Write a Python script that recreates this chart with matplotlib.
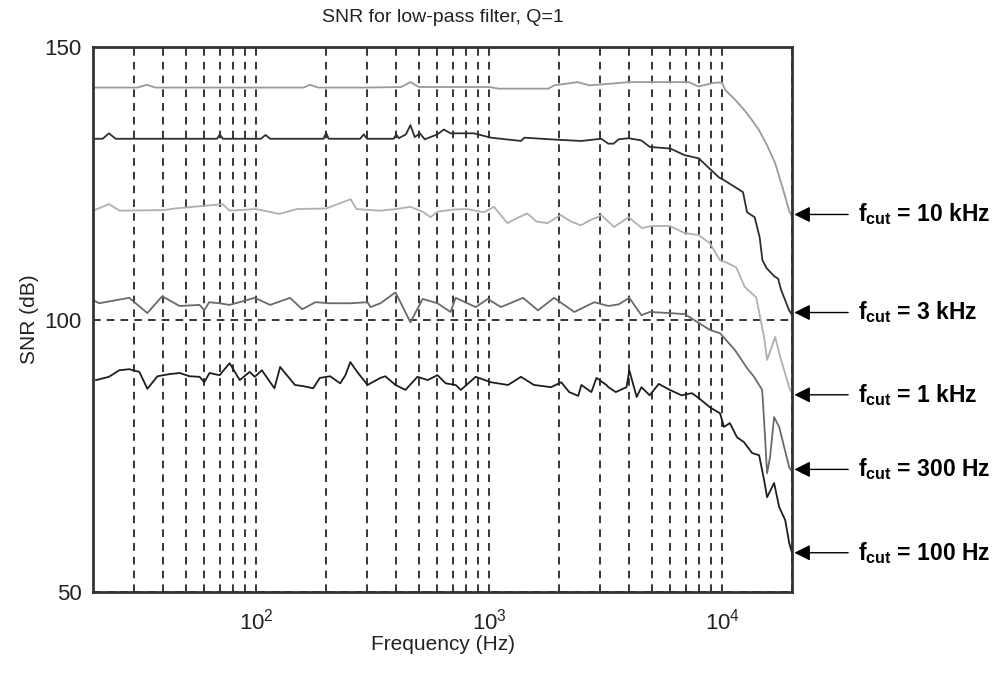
import matplotlib

matplotlib.use("Agg")
import matplotlib.pyplot as plt
from matplotlib.ticker import LogLocator, NullFormatter

plt.rcParams["font.family"] = ["Liberation Sans", "DejaVu Sans"]
plt.rcParams["mathtext.fontset"] = "custom"
plt.rcParams["mathtext.rm"] = "Liberation Sans"
plt.rcParams["mathtext.bf"] = "Liberation Sans:bold"
plt.rcParams["mathtext.it"] = "Liberation Sans:italic"

# fcut = 10 kHz
freq_10k = [20, 31, 34, 37, 60, 100, 160, 171, 185, 300, 420, 460, 500, 700, 1000,
            1100, 1800, 1900, 2400, 2700, 4000, 4200, 7200, 7900, 9300, 10000, 10300,
            11300, 12500, 13400, 14400, 15600, 16900, 18100, 19400, 20000]
snr_10k = [142.6, 142.6, 143.1, 142.6, 142.6, 142.6, 142.6, 143.1, 142.6, 142.6, 142.7,
           143.6, 142.7, 142.7, 142.7, 142.4, 142.4, 143.0, 143.6, 143.0, 143.6, 143.6,
           143.6, 142.8, 143.5, 143.5, 142.2, 140.5, 138.4, 136.7, 134.8, 132.0, 128.7,
           124.5, 120.0, 118.8]

# fcut = 3 kHz
freq_3k = [20, 22, 23.4, 25, 68, 70, 72, 105, 110, 115, 195, 200, 205, 280, 290, 300,
           390, 400, 410, 440, 460, 480, 505, 530, 600, 640, 684, 860, 1020, 1370, 1420,
           2000, 2490, 3030, 3250, 3420, 3600, 3970, 4500, 4900, 6000, 6900, 7950, 8800,
           9700, 10200, 11400, 12300, 12800, 13800, 14500, 14900, 15500, 16700, 17400,
           17900, 19400, 20000]
snr_3k = [133.2, 133.2, 134.2, 133.2, 133.2, 134.0, 133.2, 133.2, 133.9, 133.2, 133.2,
          134.3, 133.2, 133.2, 134.0, 133.2, 133.2, 134.0, 133.3, 134.0, 135.7, 133.5,
          134.2, 133.1, 134.0, 134.9, 134.2, 134.2, 133.4, 132.8, 133.4, 133.0, 132.8,
          133.2, 132.3, 132.3, 133.1, 133.3, 132.9, 131.7, 131.4, 130.2, 129.6, 127.8,
          126.1, 125.6, 124.3, 123.4, 119.7, 118.8, 115.1, 110.9, 109.5, 108.0, 107.5,
          105.5, 101.7, 100.8]

# fcut = 1 kHz
freq_1k = [20, 23.4, 26, 40, 45, 72, 77, 100, 126, 150, 200, 255, 270, 340, 400, 460,
           520, 561, 600, 700, 800, 950, 1050, 1200, 1300, 1460, 1600, 1780, 2030, 2250,
           2480, 2700, 2920, 3030, 3440, 3970, 4530, 5000, 5960, 6900, 7950, 8870, 9800,
           10300, 11500, 12500, 14000, 14400, 15140, 15600, 16900, 17750, 19400, 20000]
snr_1k = [120.0, 121.2, 120.0, 120.1, 120.4, 121.2, 120.0, 120.3, 119.4, 120.3, 120.4,
          122.1, 120.3, 120.0, 120.3, 120.7, 119.8, 118.8, 119.8, 120.2, 120.3, 119.7,
          120.7, 117.7, 118.5, 119.5, 118.0, 117.7, 119.2, 118.0, 117.3, 118.2, 118.8,
          119.2, 117.0, 118.8, 116.8, 117.2, 117.2, 115.9, 115.5, 114.0, 110.9, 110.6,
          109.6, 106.0, 104.1, 101.5, 96.8, 92.6, 96.8, 93.2, 87.6, 86.3]

# fcut = 300 Hz
freq_300 = [20, 21.2, 28.6, 34.2, 39.6, 47, 57.3, 60, 63, 69.8, 77, 85, 98.8, 115, 140,
            158, 180, 208, 254, 301, 310, 342, 397, 460, 519, 601, 684, 719, 877, 988,
            1125, 1400, 1623, 1902, 2322, 2830, 3250, 3600, 4000, 4510, 4890, 5960, 6920,
            7940, 8870, 9800, 11360, 12800, 13720, 14420, 14860, 15140, 15600, 16070,
            16720, 17580, 19410, 20000]
snr_300 = [103.6, 103.0, 104.0, 101.2, 104.3, 102.5, 102.7, 101.7, 103.2, 103.0, 102.7,
           103.2, 104.0, 102.7, 104.0, 101.9, 103.2, 103.0, 103.0, 103.2, 102.3, 103.0,
           105.0, 99.5, 103.8, 103.0, 101.4, 104.0, 102.3, 103.8, 102.3, 104.0, 101.7,
           104.0, 101.4, 103.2, 102.5, 102.8, 104.0, 100.8, 101.4, 101.2, 101.0, 99.4,
           98.1, 97.5, 94.4, 91.1, 89.5, 88.0, 87.1, 81.6, 71.8, 74.8, 82.1, 80.3, 72.9,
           72.0]

# fcut = 100 Hz
freq_100 = [20.6, 23.4, 25.9, 28.6, 31.6, 34.2, 37.8, 42.6, 47, 51.9, 57.3, 60, 63.2,
            69.8, 77.1, 85.2, 94, 98.8, 106, 120, 127, 147, 159, 176, 188, 208, 230, 242,
            254, 272, 301, 342, 359, 397, 438, 493, 545, 601, 652, 719, 757, 877, 1019,
            1207, 1371, 1560, 1848, 2042, 2208, 2415, 2490, 2750, 2890, 3190, 3252, 3500,
            3890, 4000, 4300, 4510, 4890, 5350, 5960, 6710, 7420, 7940, 8870, 9800, 10190,
            10800, 11590, 12420, 13460, 14420, 15140, 15600, 16720, 17580, 18660, 19410,
            20000]
snr_100 = [88.9, 89.5, 90.7, 90.9, 90.4, 87.3, 89.6, 90.0, 90.2, 89.6, 89.5, 88.5, 90.2,
           89.8, 92.0, 88.9, 90.4, 89.5, 90.7, 87.4, 91.3, 88.0, 87.8, 87.4, 89.3, 89.6,
           88.3, 89.8, 92.2, 90.4, 88.0, 89.3, 89.6, 88.0, 87.1, 89.5, 88.9, 89.8, 88.3,
           88.0, 87.1, 89.5, 88.5, 88.0, 89.5, 88.0, 87.6, 88.5, 86.7, 86.0, 88.0, 86.7,
           89.3, 88.0, 87.6, 86.7, 87.6, 90.7, 85.8, 87.6, 86.1, 88.2, 87.1, 86.1, 86.5,
           85.6, 83.9, 82.8, 80.3, 81.0, 78.4, 77.5, 75.5, 75.1, 70.6, 67.4, 70.0, 65.6,
           63.2, 59.0, 57.0]

cut_labels = ["10 kHz", "3 kHz", "1 kHz", "300 Hz", "100 Hz"]
arrow_levels = [119.3, 101.3, 86.2, 72.5, 57.2]

series = [
    (freq_10k, snr_10k, "#9a9a9a"),
    (freq_3k, snr_3k, "#2e2e2e"),
    (freq_1k, snr_1k, "#b0b0b0"),
    (freq_300, snr_300, "#6a6a6a"),
    (freq_100, snr_100, "#1e1e1e"),
]

fig = plt.figure(figsize=(10.06, 6.75), dpi=100)
ax = fig.add_axes([0.0925, 0.123, 0.695, 0.807])

for xs, ys, color in series:
    ax.plot(xs, ys, color=color, linewidth=1.3)

ax.set_xscale("log")
ax.set_xlim(20, 20000)
ax.set_ylim(50, 150)
ax.set_yticks([50, 100, 150])
ax.xaxis.set_major_locator(LogLocator(base=10, subs=(1.0,)))
ax.xaxis.set_minor_locator(LogLocator(base=10, subs=range(2, 10)))
ax.xaxis.set_minor_formatter(NullFormatter())

grid_style = dict(color="black", linestyle=(0, (5, 4)), linewidth=1.1)
ax.xaxis.grid(True, which="both", **grid_style)
ax.yaxis.grid(True, which="major", **grid_style)
ax.set_axisbelow(True)

ax.tick_params(axis="y", which="both", direction="in", length=0,
               labelsize=16, pad=8, colors="#222222")
ax.tick_params(axis="x", which="both", direction="in", length=0,
               labelsize=16, pad=12, colors="#222222")
for spine in ax.spines.values():
    spine.set_linewidth(2.0)
    spine.set_color("#333333")

ax.set_title("SNR for low-pass filter, Q=1", fontsize=14, pad=18, color="#222222")
ax.set_xlabel("Frequency (Hz)", fontsize=15, color="#222222", labelpad=0)
ax.set_ylabel("SNR (dB)", fontsize=15, color="#222222", labelpad=4)

for label, level in zip(cut_labels, arrow_levels):
    ax.annotate(
        "",
        xy=(1.003, level),
        xytext=(1.08, level),
        xycoords=("axes fraction", "data"),
        textcoords=("axes fraction", "data"),
        arrowprops=dict(arrowstyle="-|>", color="black", lw=1.0,
                        mutation_scale=24, shrinkA=0, shrinkB=0),
        annotation_clip=False,
    )
    ax.text(1.094, level, r"$\mathbf{f_{cut}}$ = " + label,
            transform=ax.get_yaxis_transform(), fontsize=16.5,
            fontweight="bold", va="center", ha="left", clip_on=False)

fig.savefig("out.png", dpi=100)
